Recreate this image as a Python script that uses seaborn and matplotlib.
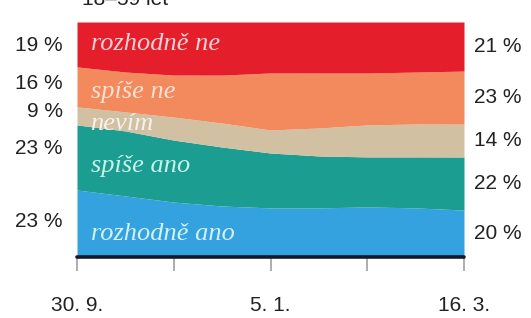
import matplotlib
matplotlib.use('Agg')
from matplotlib import pyplot as plt
import numpy as np
import seaborn as sns

# survey waves (only some dates are labelled on the axis)
waves = [0, 1, 2, 3, 4, 5, 6, 7, 8]
tick_pos = [0, 2, 4, 6, 8]
tick_labels = ['30. 9.', '', '5. 1.', '', '16. 3.']

# answer shares in %, bottom to top
answers = ['rozhodně ano', 'spíše ano', 'nevím', 'spíše ne', 'rozhodně ne']
rozhodne_ano = [28.5, 26.0, 23.4, 21.7, 20.9, 20.9, 21.3, 20.9, 20.0]
spise_ano = [27.7, 27.7, 26.4, 25.1, 23.4, 22.1, 21.3, 21.7, 22.6]
nevim = [7.7, 8.1, 9.8, 10.2, 9.8, 11.9, 13.6, 14.0, 14.0]
spise_ne = [17.0, 17.0, 17.9, 20.4, 24.3, 23.4, 22.1, 22.1, 22.6]
rozhodne_ne = [19.1, 21.3, 22.6, 22.6, 21.7, 21.7, 21.7, 21.3, 20.9]

# printed values at the first and last wave
first_labels = ['23 %', '23 %', '9 %', '16 %', '19 %']
last_labels = ['20 %', '22 %', '14 %', '23 %', '21 %']

colors = ['#34a2df', '#1b9e91', '#d2c0a3', '#f28a5e', '#e41e2b']
text_colors = ['#d4f1fb', '#c9f3ea', '#f6f1ea', '#fde2d2', '#f8d3d6']

sns.set_theme(style='white')
plt.rcParams['font.family'] = ['Liberation Sans', 'DejaVu Sans']

fig = plt.figure(figsize=(5.31, 3.18), dpi=100)
ax = fig.add_axes([77 / 531, 61 / 318, 387 / 531, 235 / 318])

series = np.array([rozhodne_ano, spise_ano, nevim, spise_ne, rozhodne_ne])
series = series / series.sum(axis=0) * 100
ax.stackplot(waves, series, colors=colors, linewidth=0)

ax.set_xlim(waves[0], waves[-1])
ax.set_ylim(0, 100)
ax.axhline(0, color='#151826', lw=2.6, clip_on=False, zorder=5)
sns.despine(ax=ax, left=True, top=True, right=True, bottom=True)
ax.set_yticks([])
ax.set_xticks(tick_pos)
ax.set_xticklabels(tick_labels, fontsize=15, color='#222222')
ax.tick_params(axis='x', direction='out', length=10, width=1.2,
               color='#a0a0a0', pad=18, bottom=True)

# labels inside the bands
label_y = [0.072, 0.362, 0.540, 0.677, 0.881]
for name, y, c in zip(answers, label_y, text_colors):
    ax.text(0.035, y, name, transform=ax.transAxes, fontsize=19,
            style='italic', family=['Liberation Serif', 'DejaVu Serif'],
            color=c, va='baseline', ha='left')

# values at the left
left_y = [0.149, 0.460, 0.621, 0.740, 0.898]
for lab, y in zip(first_labels, left_y):
    ax.text(-0.037, y, lab, transform=ax.transAxes, fontsize=15,
            color='#222222', ha='right', va='center')

# values at the right, centred on each band
tops = series[:, -1].cumsum()
mids = tops - series[:, -1] / 2
for lab, m in zip(last_labels, mids):
    ax.text(1.025, m, lab, transform=ax.get_yaxis_transform(), fontsize=15,
            color='#222222', ha='left', va='center')

# title cut off at the top of the crop
fig.text(82 / 531, 1 - 5 / 318, '18–59 let', fontsize=15, color='#222222',
         va='baseline', ha='left')

fig.savefig('out.png', dpi=100)
